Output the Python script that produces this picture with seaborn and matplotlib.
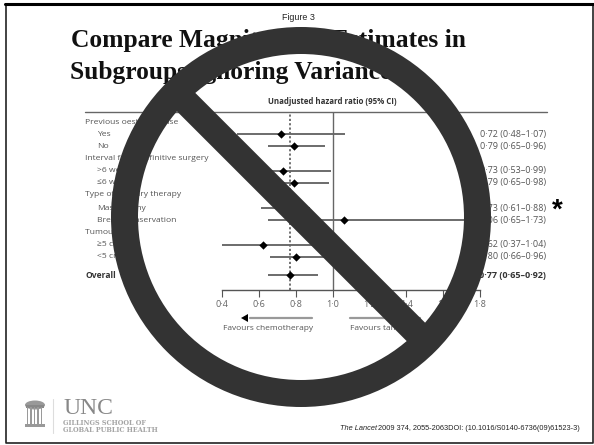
import matplotlib
matplotlib.use("Agg")
import matplotlib.pyplot as plt
import numpy as np
import pandas as pd
import seaborn as sns
from matplotlib.patches import Circle, Ellipse, Polygon, Rectangle

sns.set_theme(style="white")
plt.rcParams["font.family"] = ["Open Sans", "DejaVu Sans"]

# values
groups = ["Yes", "No", ">6 weeks", "≤6 weeks", "Mastectomy", "Breast conservation", "≥5 cm", "<5 cm", "Overall"]
hr = [0.72, 0.79, 0.73, 0.79, 0.73, 1.06, 0.62, 0.80, 0.77]
low = [0.48, 0.65, 0.53, 0.65, 0.61, 0.65, 0.37, 0.66, 0.65]
high = [1.07, 0.96, 0.99, 0.98, 0.88, 1.73, 1.04, 0.96, 0.92]
hr_text = ["0·72 (0·48–1·07)", "0·79 (0·65–0·96)", "0·73 (0·53–0·99)", "0·79 (0·65–0·98)", "0·73 (0·61–0·88)",
           "1·06 (0·65–1·73)", "0·62 (0·37–1·04)", "0·80 (0·66–0·96)", "0·77 (0·65–0·92)"]
row_y = [134, 146, 171, 183, 208, 220, 245, 257, 275]
headers = ["Previous oestrogen use", "Interval from definitive surgery", "Type of primary therapy", "Tumour size"]
header_y = [122, 158, 195, 232]
x_ticks = [0.4, 0.6, 0.8, 1.0, 1.2, 1.4, 1.6, 1.8]
x_tick_labels = ["0·4", "0·6", "0·8", "1·0", "1·2", "1·4", "1·6", "1·8"]

df = pd.DataFrame({"group": groups, "hr": hr, "low": low, "high": high, "y": row_y})

W, H = 594, 445
fig = plt.figure(figsize=(W / 100, H / 100), dpi=100, facecolor="white")

# forest plot axes: x in hazard ratio, y in picture rows
ax = fig.add_axes([222 / W, 1 - 290 / H, (480 - 222) / W, (290 - 112) / H])
ax.set_xlim(0.4, 1.8)
ax.set_ylim(290, 112)
ax.hlines(df["y"], df["low"], df["high"], color="#444444", lw=1.1)
sns.scatterplot(data=df, x="hr", y="y", marker="D", color="black", s=18, ax=ax, zorder=3, linewidth=0)
ax.axvline(1.0, color="#666666", lw=1)
ax.axvline(0.77, color="#666666", lw=1.3, ls=(0, (1.2, 1.2)))
sns.despine(ax=ax, left=True, top=True, right=True)
ax.spines["bottom"].set_color("#555555")
ax.spines["bottom"].set_linewidth(1)
ax.set_yticks([])
ax.set_xticks(x_ticks)
ax.set_xticklabels(x_tick_labels, fontsize=6.6, color="#666666")
ax.tick_params(axis="x", bottom=True, length=5, width=0.8, color="#555555", pad=2)
ax.set_xlabel("")
ax.set_ylabel("")
ax.patch.set_alpha(0)

# page layer in pixel coordinates for the slide text and frame
page = fig.add_axes([0, 0, 1, 1], zorder=-1)
page.set_xlim(0, W)
page.set_ylim(H, 0)
page.axis("off")

page.text(298, 18, "Figure 3", ha="center", va="center", fontsize=6.4, family="Liberation Sans", color="#222222")
page.text(71, 40, "Compare Magnitude of Estimates in", va="center", fontsize=18.4, weight="bold", family="Liberation Serif", color="#111111")
page.text(70, 73, "Subgroups Ignoring Variance", va="center", fontsize=18.4, weight="bold", family="Liberation Serif", color="#111111")
page.text(332, 102, "Unadjusted hazard ratio (95% CI)", ha="center", va="center", fontsize=5.7, weight="bold", color="#333333")
page.plot([85, 547], [112, 112], color="#666666", lw=1)

for name, y in zip(headers, header_y):
    page.text(85, y, name, va="center", fontsize=6.1, color="#555555")
for name, y in zip(groups, row_y):
    bold = name == "Overall"
    page.text(85 if bold else 97, y, name, va="center", fontsize=6.1, color="#333333" if bold else "#555555",
              weight="bold" if bold else "normal")
for txt, y in zip(hr_text, row_y):
    bold = y == row_y[-1]
    page.text(546, y, txt, ha="right", va="center", fontsize=6.5, color="#333333" if bold else "#555555",
              weight="bold" if bold else "normal")
page.text(557, 211, "*", ha="center", va="center", fontsize=20, weight="bold", color="black", family="Liberation Sans")

page.plot([250, 312], [318, 318], color="#999999", lw=1.6)
page.add_patch(Polygon([(241, 318), (248, 314), (248, 322)], fc="black", ec="none"))
page.plot([350, 420], [318, 318], color="#999999", lw=1.6)
page.text(268, 328, "Favours chemotherapy", ha="center", va="center", fontsize=6.0, color="#555555")
page.text(350, 328, "Favours tamoxifen", va="center", fontsize=6.0, color="#555555")

page.text(340, 429, "The Lancet", va="center", fontsize=5.35, style="italic", family="Liberation Sans", color="#222222")
page.text(378, 429, "2009 374, 2055-2063DOI: (10.1016/S0140-6736(09)61523-3)", va="center", fontsize=5.35, family="Liberation Sans", color="#222222")

# UNC logo
page.text(63, 408, "UNC", va="center", fontsize=17, family="Liberation Serif", color="#888888")
page.text(63, 423, "GILLINGS SCHOOL OF", va="center", fontsize=4.7, weight="bold", family="DejaVu Serif", color="#a5a5a5")
page.text(63, 430, "GLOBAL PUBLIC HEALTH", va="center", fontsize=4.7, weight="bold", family="DejaVu Serif", color="#a5a5a5")
page.plot([53, 53], [399, 433], color="#dddddd", lw=0.8)
page.add_patch(Ellipse((35, 405), 20, 9, fc="#999999", ec="none"))
page.add_patch(Rectangle((26, 405), 18, 2.5, fc="#888888", ec="none"))
for col_x in [27.5, 31, 34.5, 38, 41.5]:
    page.add_patch(Rectangle((col_x - 0.8, 407), 1.6, 17, fc="#9a9a9a", ec="none"))
page.add_patch(Rectangle((25, 424), 20, 3, fc="#999999", ec="none"))

# slide frame
page.plot([5.5, 5.5, 593, 593], [4, 443, 443, 4], color="#222222", lw=1.2)
page.plot([5, 594], [4, 4], color="black", lw=2.2)

# no-entry sign on top of everything
top = fig.add_axes([0, 0, 1, 1], zorder=10)
top.set_xlim(0, W)
top.set_ylim(H, 0)
top.axis("off")
top.patch.set_alpha(0)
sign = "#333333"
top.add_patch(Circle((301, 217), 176.5, fc="none", ec=sign, lw=27 * 0.72))
ang = np.deg2rad(45)
d = np.array([np.cos(ang), np.sin(ang)])
n = np.array([-d[1], d[0]]) * 13
c = np.array([301, 217])
top.add_patch(Polygon([c - 170 * d + n, c + 170 * d + n, c + 170 * d - n, c - 170 * d - n], fc=sign, ec="none"))

fig.savefig("out.png", dpi=100)
